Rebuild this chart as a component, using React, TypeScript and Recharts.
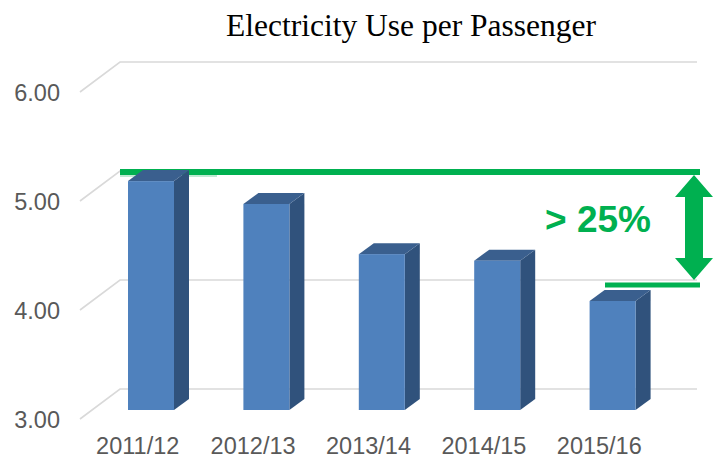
import React from 'react';
import { BarChart, Bar, XAxis, YAxis, CartesianGrid, ReferenceArea } from 'recharts';

const categories = ['2011/12', '2012/13', '2013/14', '2014/15', '2015/16'];
const values = [5.1, 4.89, 4.43, 4.37, 4.0];
const yTicks = [3, 4, 5, 6];
const yTickLabels = ['3.00', '4.00', '5.00', '6.00'];
const title = 'Electricity Use per Passenger';
const annotation = '> 25%';

const data = categories.map((c, i) => ({ name: c, value: values[i] }));

const GREEN = '#00B050';
const DX = 15;
const DY = 11;

const Bar3D = (props: any) => {
  const { x, y, width, height } = props;
  if (height == null || width == null) return null;
  const r = x + width;
  return (
    <g>
      <polygon
        points={`${r},${y} ${r + DX},${y - DY} ${r + DX},${y + height - DY} ${r},${y + height}`}
        fill="#30527C"
      />
      <polygon
        points={`${x},${y} ${x + DX},${y - DY} ${r + DX},${y - DY} ${r},${y}`}
        fill="#3A5F8E"
      />
      <rect x={x} y={y} width={width} height={height} fill="#4F81BD" />
    </g>
  );
};

const gridLine = (p: any) => {
  const { x1, x2, y1, index } = p;
  const back = y1 - 21;
  return (
    <path
      key={`g-${index}`}
      d={`M${x1 - 13},${back + 30} L${x1 + 27},${back} L${x2 + 27},${back}`}
      fill="none"
      stroke="#D9D9D9"
      strokeWidth={1.6}
    />
  );
};

const Annotation = (p: any) => {
  const { x, y, width, height } = p;
  const right = x + width;
  const topLine = y - 9;
  const botLine = y + height - 16;
  const cx = right + 24;
  const tTop = topLine + 3;
  const tBot = botLine - 5;
  const hh = 22;
  return (
    <g>
      <line x1={x + 27} y1={topLine + 1} x2={x + 124} y2={topLine + 1} stroke={GREEN} strokeWidth={8} opacity={0.25} />
      <line x1={x + 27} y1={topLine} x2={right + 30} y2={topLine} stroke={GREEN} strokeWidth={6} />
      <line x1={right - 65} y1={botLine} x2={right + 30} y2={botLine} stroke={GREEN} strokeWidth={5} />
      <polygon
        points={`${cx},${tTop} ${cx + 19},${tTop + hh} ${cx + 9},${tTop + hh} ${cx + 9},${tBot - hh} ${cx + 19},${tBot - hh} ${cx},${tBot} ${cx - 19},${tBot - hh} ${cx - 9},${tBot - hh} ${cx - 9},${tTop + hh} ${cx - 19},${tTop + hh}`}
        fill={GREEN}
      />
      <text
        x={right - 72}
        y={topLine + 60}
        textAnchor="middle"
        fill={GREEN}
        fontFamily="'Liberation Sans', Arial, sans-serif"
        fontWeight="bold"
        fontSize={37}
      >
        {annotation}
      </text>
    </g>
  );
};

const XTick = (p: any) => {
  const { x, y, payload } = p;
  return (
    <text
      x={x - 13}
      y={y + 44}
      textAnchor="middle"
      fill="#595959"
      fontFamily="'Liberation Sans', Arial, sans-serif"
      fontSize={23.5}
    >
      {payload.value}
    </text>
  );
};

const YTick = (p: any) => {
  const { x, y, payload } = p;
  const idx = yTicks.indexOf(payload.value);
  return (
    <text
      x={x - 33}
      y={y + 18}
      textAnchor="end"
      fill="#595959"
      fontFamily="'Liberation Sans', Arial, sans-serif"
      fontSize={23.5}
    >
      {idx >= 0 ? yTickLabels[idx] : payload.value}
    </text>
  );
};

export default function App() {
  return (
    <div style={{ position: 'absolute', left: 0, top: 0, width: 722, height: 459, background: '#fff' }}>
      <div
        style={{
          position: 'absolute',
          left: 111,
          top: 10,
          width: 600,
          textAlign: 'center',
          fontFamily: "'Liberation Serif', 'Times New Roman', serif",
          fontSize: 31.5,
          lineHeight: '32px',
          color: '#000',
        }}
      >
        {title}
      </div>
      <BarChart
        width={722}
        height={459}
        data={data}
        margin={{ top: 83, right: 52, bottom: 0, left: 0 }}
        style={{ position: 'absolute', left: 0, top: 0 }}
      >
        <CartesianGrid vertical={false} horizontal={gridLine} syncWithTicks />
        <XAxis
          dataKey="name"
          axisLine={false}
          tickLine={false}
          tickSize={0}
          tickMargin={0}
          height={49}
          tick={<XTick />}
          interval={0}
        />
        <YAxis
          domain={[3, 6]}
          ticks={yTicks}
          axisLine={false}
          tickLine={false}
          tickSize={0}
          tickMargin={0}
          width={93}
          tick={<YTick />}
          allowDataOverflow
        />
        <Bar dataKey="value" barSize={46} shape={<Bar3D />} isAnimationActive={false} />
        <ReferenceArea y1={values[4]} y2={values[0]} shape={<Annotation />} ifOverflow="visible" />
      </BarChart>
    </div>
  );
}
